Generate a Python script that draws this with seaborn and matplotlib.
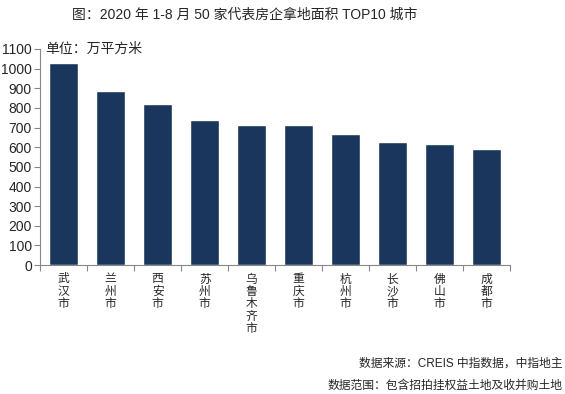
import matplotlib
matplotlib.use("Agg")
import matplotlib.pyplot as plt
import pandas as pd
import seaborn as sns

# data
cities = ["武汉市", "兰州市", "西安市", "苏州市", "乌鲁木齐市", "重庆市", "杭州市", "长沙市", "佛山市", "成都市"]
areas = [1030, 886, 820, 738, 713, 712, 667, 626, 616, 591]
yticks = list(range(0, 1101, 100))

sns.set_theme(style="white")
plt.rcParams['font.family'] = ['Liberation Sans', 'Noto Sans CJK SC', 'DejaVu Sans']

df = pd.DataFrame({"city": ["\n".join(c) for c in cities], "area": areas})

fig = plt.figure(figsize=(5.65, 3.94), dpi=100)
ax = fig.add_axes([0.071, 0.327, 0.832, 0.549])
sns.barplot(data=df, x="city", y="area", color="#1B365D", saturation=1, width=0.62, ax=ax)

ax.set_ylim(0, 1100)
ax.set_xlim(-0.5, len(cities) - 0.5)
ax.set_yticks(yticks)
ax.set_xlabel("")
ax.set_ylabel("")
for s in ["top", "right"]:
    ax.spines[s].set_visible(False)
for s in ["left", "bottom"]:
    ax.spines[s].set_color("#888888")
    ax.spines[s].set_linewidth(0.8)

ax.tick_params(axis="y", labelsize=10, length=4, width=0.8, color="#888888", direction="out", left=True, pad=2)
ax.tick_params(axis="x", which="major", length=0, labelsize=8.5, pad=6)
ax.set_xticks([i - 0.5 for i in range(len(cities) + 1)], minor=True)
ax.tick_params(axis="x", which="minor", length=4, width=0.8, color="#888888", bottom=True)
for lbl in ax.get_xticklabels():
    lbl.set_linespacing(1.05)
    lbl.set_verticalalignment("top")

fig.text(0.433, 0.962, "图：2020 年 1-8 月 50 家代表房企拿地面积 TOP10 城市", ha="center", va="center", fontsize=10)
ax.text(0.01, 1.0, "单位：万平方米", transform=ax.transAxes, ha="left", va="center", fontsize=10)
fig.text(0.995, 0.078, "数据来源：CREIS 中指数据，中指地主", ha="right", va="center", fontsize=8.5)
fig.text(0.995, 0.02, "数据范围：包含招拍挂权益土地及收并购土地", ha="right", va="center", fontsize=8.5)

fig.savefig("out.png", dpi=100, facecolor="white")
